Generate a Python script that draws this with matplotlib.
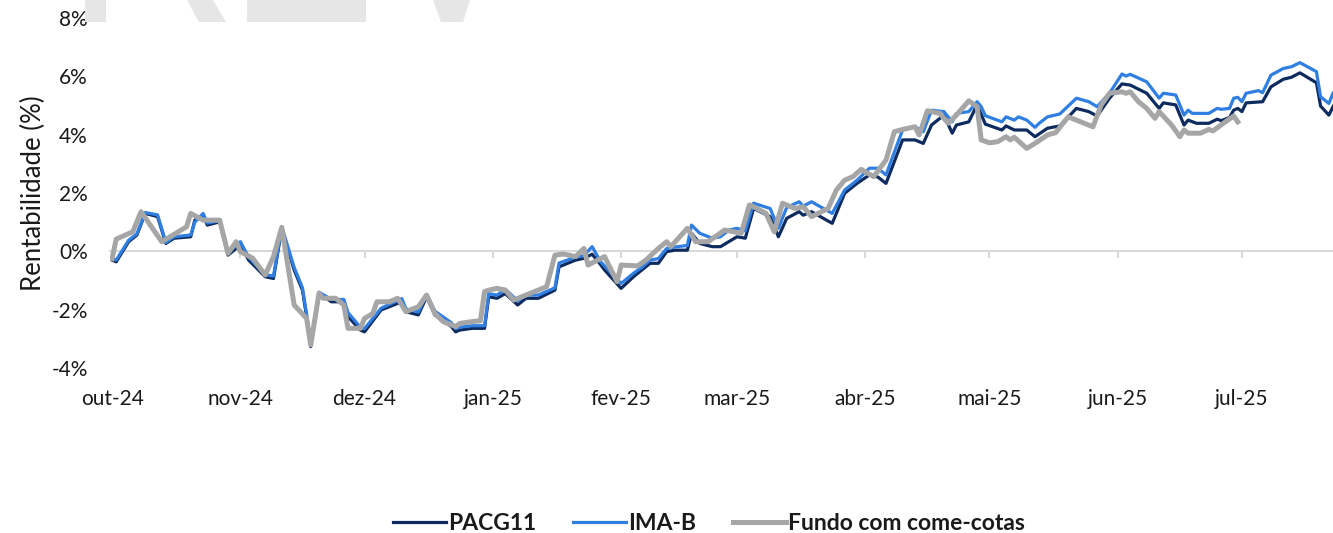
import pandas as pd
import matplotlib
matplotlib.use('Agg')
import matplotlib.pyplot as plt
from matplotlib.patches import Polygon
from matplotlib.ticker import FuncFormatter

plt.rcParams['font.family'] = ['Lato', 'DejaVu Sans']

# --- data (cumulative return, %) ---
pacg_dates = [
    "2024-10-01", "2024-10-02", "2024-10-05", "2024-10-07", "2024-10-09", "2024-10-12", "2024-10-14",
    "2024-10-16", "2024-10-20", "2024-10-21", "2024-10-23", "2024-10-24", "2024-10-27", "2024-10-29",
    "2024-11-01", "2024-11-03", "2024-11-07", "2024-11-09", "2024-11-11", "2024-11-14", "2024-11-16",
    "2024-11-17", "2024-11-18", "2024-11-20", "2024-11-23", "2024-11-26", "2024-11-27", "2024-11-30",
    "2024-12-01", "2024-12-05", "2024-12-08", "2024-12-10", "2024-12-11", "2024-12-14", "2024-12-16",
    "2024-12-18", "2024-12-22", "2024-12-23", "2024-12-24", "2024-12-27", "2024-12-30", "2024-12-31",
    "2025-01-02", "2025-01-04", "2025-01-07", "2025-01-09", "2025-01-12", "2025-01-16", "2025-01-17",
    "2025-01-21", "2025-01-23", "2025-01-25", "2025-01-27", "2025-01-28",
    "2025-02-01", "2025-02-04", "2025-02-06", "2025-02-08", "2025-02-10", "2025-02-12", "2025-02-14",
    "2025-02-17", "2025-02-18", "2025-02-20", "2025-02-23", "2025-02-25", "2025-02-27",
    "2025-03-01", "2025-03-03", "2025-03-05", "2025-03-09", "2025-03-11", "2025-03-13", "2025-03-16",
    "2025-03-17", "2025-03-19", "2025-03-24", "2025-03-27", "2025-03-30",
    "2025-04-02", "2025-04-04", "2025-04-06", "2025-04-08", "2025-04-10", "2025-04-13", "2025-04-15",
    "2025-04-17", "2025-04-20", "2025-04-22", "2025-04-23", "2025-04-26", "2025-04-28", "2025-04-30",
    "2025-05-04", "2025-05-05", "2025-05-07", "2025-05-10", "2025-05-12", "2025-05-15", "2025-05-18",
    "2025-05-22", "2025-05-25", "2025-05-27", "2025-05-30",
    "2025-06-02", "2025-06-04", "2025-06-08", "2025-06-11", "2025-06-12", "2025-06-15", "2025-06-17",
    "2025-06-18", "2025-06-20", "2025-06-23", "2025-06-25", "2025-06-26", "2025-06-28", "2025-06-29",
    "2025-06-30",
    "2025-07-01", "2025-07-02", "2025-07-06", "2025-07-08", "2025-07-11", "2025-07-13", "2025-07-15",
    "2025-07-19", "2025-07-20", "2025-07-22", "2025-07-23", "2025-07-24",
]
pacg_vals = [
    -0.30, -0.36, 0.33, 0.56, 1.30, 1.19, 0.27, 0.45, 0.50, 1.07, 1.24, 0.90, 1.01, -0.13,
    0.22, -0.30, -0.87, -0.93, 0.79, -0.64, -1.33, -2.24, -3.27, -1.44, -1.73, -1.73, -2.24, -2.70,
    -2.76, -2.01, -1.84, -1.73, -2.07, -2.18, -1.56, -2.18, -2.58, -2.76, -2.70, -2.64, -2.64, -1.56,
    -1.61, -1.45, -1.84, -1.61, -1.61, -1.33, -0.53, -0.30, -0.24, -0.10, -0.45, -0.64,
    -1.27, -0.87, -0.64, -0.41, -0.41, -0.01, 0.04, 0.04, 0.62, 0.27, 0.16, 0.16, 0.33,
    0.50, 0.45, 1.47, 1.19, 0.50, 1.13, 1.36, 1.24, 1.36, 0.96, 1.99, 2.33,
    2.62, 2.55, 2.33, 3.07, 3.82, 3.82, 3.70, 4.33, 4.67, 4.05, 4.33, 4.44, 5.02, 4.36,
    4.16, 4.30, 4.16, 4.16, 3.93, 4.22, 4.30, 4.90, 4.79, 4.64, 5.25,
    5.74, 5.70, 5.42, 4.90, 5.09, 5.02, 4.33, 4.50, 4.39, 4.39, 4.53, 4.48, 4.59, 4.84, 4.90,
    4.79, 5.09, 5.13, 5.64, 5.90, 5.97, 6.12, 5.78, 4.98, 4.67, 4.96, 5.20,
]

imab_dates = [
    "2024-10-01", "2024-10-02", "2024-10-05", "2024-10-07", "2024-10-09", "2024-10-12", "2024-10-14",
    "2024-10-16", "2024-10-20", "2024-10-21", "2024-10-23", "2024-10-24", "2024-10-27", "2024-10-29",
    "2024-11-01", "2024-11-03", "2024-11-07", "2024-11-09", "2024-11-11", "2024-11-14", "2024-11-16",
    "2024-11-17", "2024-11-18", "2024-11-20", "2024-11-23", "2024-11-26", "2024-11-27", "2024-11-30",
    "2024-12-01", "2024-12-05", "2024-12-08", "2024-12-10", "2024-12-11", "2024-12-14", "2024-12-16",
    "2024-12-18", "2024-12-22", "2024-12-23", "2024-12-24", "2024-12-27", "2024-12-30", "2024-12-31",
    "2025-01-02", "2025-01-04", "2025-01-07", "2025-01-09", "2025-01-12", "2025-01-16", "2025-01-17",
    "2025-01-21", "2025-01-23", "2025-01-25", "2025-01-27", "2025-01-28",
    "2025-02-01", "2025-02-04", "2025-02-06", "2025-02-08", "2025-02-10", "2025-02-12", "2025-02-14",
    "2025-02-17", "2025-02-18", "2025-02-20", "2025-02-23", "2025-02-25", "2025-02-27",
    "2025-03-01", "2025-03-03", "2025-03-05", "2025-03-09", "2025-03-11", "2025-03-13", "2025-03-16",
    "2025-03-17", "2025-03-19", "2025-03-24", "2025-03-27", "2025-03-30",
    "2025-04-02", "2025-04-04", "2025-04-06", "2025-04-08", "2025-04-10", "2025-04-13", "2025-04-15",
    "2025-04-17", "2025-04-20", "2025-04-22", "2025-04-23", "2025-04-26", "2025-04-28", "2025-04-29",
    "2025-04-30",
    "2025-05-04", "2025-05-05", "2025-05-07", "2025-05-08", "2025-05-10", "2025-05-12", "2025-05-13",
    "2025-05-15", "2025-05-18", "2025-05-22", "2025-05-25", "2025-05-27", "2025-05-30",
    "2025-06-02", "2025-06-03", "2025-06-04", "2025-06-08", "2025-06-11", "2025-06-12", "2025-06-15",
    "2025-06-17", "2025-06-18", "2025-06-19", "2025-06-23", "2025-06-25", "2025-06-26", "2025-06-28",
    "2025-06-29", "2025-06-30",
    "2025-07-01", "2025-07-02", "2025-07-05", "2025-07-06", "2025-07-08", "2025-07-11", "2025-07-13",
    "2025-07-15", "2025-07-19", "2025-07-20", "2025-07-22", "2025-07-23", "2025-07-24",
]
imab_vals = [
    -0.25, -0.30, 0.38, 0.60, 1.33, 1.25, 0.30, 0.50, 0.56, 1.00, 1.30, 0.97, 1.05, -0.05,
    0.33, -0.20, -0.80, -0.85, 0.84, -0.55, -1.25, -2.15, -3.20, -1.40, -1.65, -1.65, -2.10, -2.60,
    -2.65, -1.95, -1.75, -1.62, -1.97, -2.08, -1.48, -2.05, -2.45, -2.65, -2.60, -2.55, -2.55, -1.45,
    -1.50, -1.30, -1.70, -1.50, -1.50, -1.25, -0.40, -0.20, -0.15, 0.16, -0.35, -0.50,
    -1.10, -0.75, -0.55, -0.30, -0.25, 0.10, 0.15, 0.20, 0.90, 0.62, 0.45, 0.50, 0.73,
    0.79, 0.70, 1.65, 1.47, 0.79, 1.50, 1.70, 1.55, 1.70, 1.30, 2.10, 2.44,
    2.85, 2.85, 2.62, 3.40, 4.16, 4.27, 4.10, 4.84, 4.79, 4.44, 4.73, 4.79, 5.13, 4.96, 4.65,
    4.44, 4.61, 4.50, 4.61, 4.50, 4.25, 4.39, 4.61, 4.71, 5.25, 5.13, 4.96, 5.42,
    6.08, 6.01, 6.07, 5.81, 5.25, 5.42, 5.36, 4.67, 4.84, 4.73, 4.73, 4.90, 4.87, 4.90, 5.25, 5.28,
    5.13, 5.42, 5.51, 5.44, 6.04, 6.27, 6.33, 6.47, 6.16, 5.30, 5.07, 5.42, 5.60,
]

fundo_dates = [
    "2024-10-01", "2024-10-02", "2024-10-06", "2024-10-08", "2024-10-13", "2024-10-19", "2024-10-20",
    "2024-10-23", "2024-10-27", "2024-10-29", "2024-10-31",
    "2024-11-01", "2024-11-04", "2024-11-07", "2024-11-09", "2024-11-11", "2024-11-14", "2024-11-17",
    "2024-11-18", "2024-11-20", "2024-11-21", "2024-11-24", "2024-11-26", "2024-11-27", "2024-11-30",
    "2024-12-01", "2024-12-03", "2024-12-04", "2024-12-07", "2024-12-09", "2024-12-11", "2024-12-14",
    "2024-12-16", "2024-12-18", "2024-12-20", "2024-12-23", "2024-12-24", "2024-12-27", "2024-12-29",
    "2024-12-30", "2024-12-31",
    "2025-01-02", "2025-01-04", "2025-01-06", "2025-01-09", "2025-01-13", "2025-01-14", "2025-01-16",
    "2025-01-18", "2025-01-21", "2025-01-23", "2025-01-24", "2025-01-28", "2025-01-31",
    "2025-02-01", "2025-02-05", "2025-02-07", "2025-02-10", "2025-02-12", "2025-02-13", "2025-02-17",
    "2025-02-19", "2025-02-22", "2025-02-26",
    "2025-03-02", "2025-03-04", "2025-03-05", "2025-03-08", "2025-03-10", "2025-03-12", "2025-03-15",
    "2025-03-17", "2025-03-19", "2025-03-23", "2025-03-25", "2025-03-27", "2025-03-29", "2025-03-31",
    "2025-04-03", "2025-04-06", "2025-04-08", "2025-04-10", "2025-04-13", "2025-04-14", "2025-04-16",
    "2025-04-19", "2025-04-21", "2025-04-23", "2025-04-26", "2025-04-28", "2025-04-29",
    "2025-05-01", "2025-05-03", "2025-05-05", "2025-05-06", "2025-05-07", "2025-05-10", "2025-05-12",
    "2025-05-15", "2025-05-17", "2025-05-20", "2025-05-22", "2025-05-26", "2025-05-28", "2025-05-30",
    "2025-06-02", "2025-06-03", "2025-06-04", "2025-06-06", "2025-06-08", "2025-06-10", "2025-06-11",
    "2025-06-14", "2025-06-16", "2025-06-17", "2025-06-18", "2025-06-21", "2025-06-23", "2025-06-24",
    "2025-06-27", "2025-06-29", "2025-06-30",
]
fundo_vals = [
    -0.25, 0.42, 0.67, 1.36, 0.33, 0.84, 1.30, 1.07, 1.07, -0.07, 0.33,
    -0.01, -0.24, -0.81, -0.18, 0.82, -1.84, -2.30, -3.21, -1.44, -1.61, -1.61, -1.84, -2.64, -2.64,
    -2.30, -2.13, -1.73, -1.73, -1.61, -2.07, -1.90, -1.50, -2.13, -2.41, -2.58, -2.47, -2.41, -2.38,
    -1.38, -1.33,
    -1.27, -1.33, -1.67, -1.50, -1.27, -1.21, -0.13, -0.09, -0.18, 0.10, -0.47, -0.18, -1.04,
    -0.47, -0.50, -0.30, 0.10, 0.33, 0.16, 0.79, 0.33, 0.33, 0.73,
    0.62, 1.59, 1.53, 1.30, 0.67, 1.65, 1.47, 1.53, 1.19, 1.47, 2.10, 2.44, 2.56, 2.81,
    2.56, 3.13, 4.10, 4.18, 4.27, 3.99, 4.82, 4.73, 4.39, 4.67, 5.16, 4.96, 3.82,
    3.72, 3.76, 3.93, 3.82, 3.91, 3.53, 3.70, 3.99, 4.07, 4.61, 4.50, 4.27, 5.02, 5.42,
    5.47, 5.42, 5.47, 5.13, 4.90, 4.56, 4.79, 4.33, 3.93, 4.16, 4.05, 4.05, 4.18, 4.13,
    4.44, 4.64, 4.44,
]

month_starts = ["2024-10-01", "2024-11-01", "2024-12-01", "2025-01-01", "2025-02-01",
                "2025-03-01", "2025-04-01", "2025-05-01", "2025-06-01", "2025-07-01"]
month_labels = ["out-24", "nov-24", "dez-24", "jan-25", "fev-25",
                "mar-25", "abr-25", "mai-25", "jun-25", "jul-25"]

navy = '#0D2B5E'
blue = '#2F7FE3'
grey = '#A6A6A6'
txt = '#1A1A1A'

W, H = 1333, 533
fig = plt.figure(figsize=(W / 100, H / 100), dpi=100)

# faint watermark fragments at the top edge (cut-off logo letters)
wm = [
    [(85, 0), (106, 0), (106, 22), (85, 22)],
    [(187, 0), (213, 0), (226, 22), (199, 22)],
    [(247, 0), (366, 0), (366, 22), (247, 22)],
    [(433, 0), (470, 0), (463, 22), (441, 22)],
]
for pts in wm:
    fig.patches.append(Polygon([(x / W, 1 - y / H) for x, y in pts], closed=True,
                               transform=fig.transFigure, facecolor='#E6E6E6',
                               edgecolor='none', zorder=0))

ax = fig.add_axes([110 / W, 1 - 368 / H, 1 - 110 / W, 350 / H])
ax.patch.set_alpha(0)

l1, = ax.plot(pd.to_datetime(pacg_dates), pacg_vals, color=navy, lw=2.3, label='PACG11', zorder=3)
l2, = ax.plot(pd.to_datetime(imab_dates), imab_vals, color=blue, lw=2.3, label='IMA-B', zorder=4)
l3, = ax.plot(pd.to_datetime(fundo_dates), fundo_vals, color=grey, lw=3.6,
              label='Fundo com come-cotas', zorder=5)

ax.set_ylim(-4, 8)
ax.set_yticks(range(-4, 9, 2))
ax.yaxis.set_major_formatter(FuncFormatter(lambda v, p: f'{v:.0f}%'))
ax.set_xlim(pd.Timestamp("2024-09-30 12:00"), pd.Timestamp("2025-07-23"))

for s in ['top', 'right', 'left']:
    ax.spines[s].set_visible(False)
ax.spines['bottom'].set_position(('data', 0))
ax.spines['bottom'].set_color('#D9D9D9')
ax.spines['bottom'].set_linewidth(1.5)
ax.spines['bottom'].set_zorder(1)

ticks = pd.to_datetime(month_starts)
ax.set_xticks(ticks)
ax.tick_params(axis='x', direction='out', length=5, width=1.5, color='#D9D9D9', labelbottom=False)
ax.tick_params(axis='y', length=0, pad=16, labelsize=15, labelcolor=txt)

sec = ax.secondary_xaxis(0.0)
sec.set_xticks(ticks)
sec.set_xticklabels(month_labels)
sec.tick_params(length=0, pad=15, labelsize=15, labelcolor=txt)
sec.spines['bottom'].set_visible(False)

ax.set_ylabel('Rentabilidade (%)', fontsize=18.5, color=txt, labelpad=4)

fig.legend(handles=[l1, l2, l3], loc='center', bbox_to_anchor=(709 / W, 1 - 524 / H),
           ncol=3, frameon=False, prop=dict(weight='bold', size=16.5),
           handlelength=2.3, handletextpad=0.1, columnspacing=1.6, labelcolor=txt)

fig.savefig('out.png', dpi=100)
